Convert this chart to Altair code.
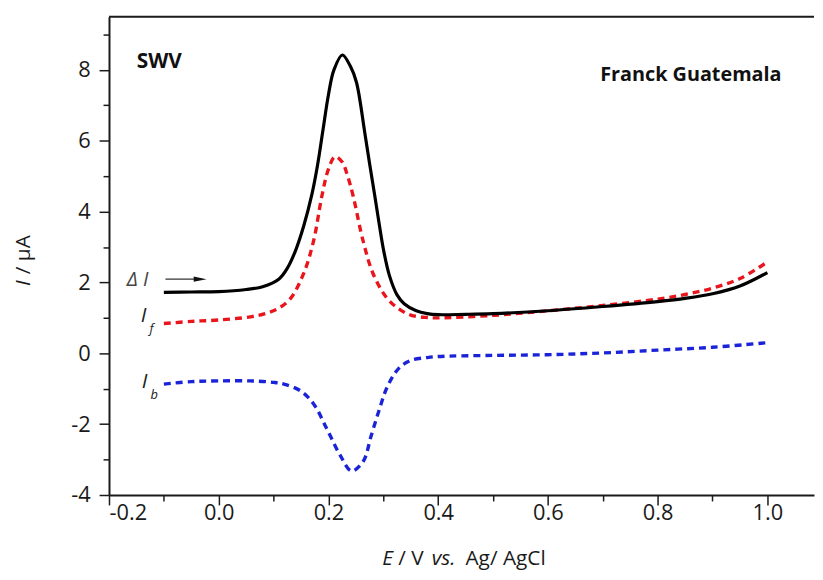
import altair as alt
import pandas as pd

# Delta I (black, solid)
dI_x = [-0.10, -0.05, 0.00, 0.05, 0.08, 0.11, 0.125, 0.14, 0.155, 0.17, 0.18, 0.19, 0.20, 0.21,
        0.2253, 0.24, 0.251, 0.266, 0.275, 0.284, 0.293, 0.30, 0.311, 0.325, 0.338, 0.36, 0.38,
        0.40, 0.45, 0.50, 0.60, 0.70, 0.80, 0.85, 0.90, 0.95, 1.00]
dI_y = [1.72, 1.73, 1.74, 1.80, 1.88, 2.10, 2.40, 2.90, 3.60, 4.50, 5.30, 6.30, 7.30, 8.00,
        8.42, 8.10, 7.65, 6.25, 5.35, 4.49, 3.60, 2.95, 2.20, 1.65, 1.40, 1.20, 1.12,
        1.09, 1.10, 1.12, 1.20, 1.32, 1.46, 1.55, 1.68, 1.90, 2.28]

# I_f (red, dashed)
If_x = [-0.10, -0.05, 0.00, 0.058, 0.089, 0.11, 0.131, 0.155, 0.173, 0.188, 0.20, 0.212,
        0.225, 0.235, 0.245, 0.263, 0.281, 0.305, 0.326, 0.35, 0.38, 0.40, 0.50, 0.60, 0.70,
        0.80, 0.85, 0.90, 0.95, 1.00]
If_y = [0.84, 0.90, 0.94, 1.03, 1.14, 1.28, 1.55, 2.26, 3.18, 4.44, 5.20, 5.55,
        5.40, 5.00, 4.44, 3.18, 2.26, 1.59, 1.28, 1.08, 1.01, 1.00, 1.07, 1.20, 1.35,
        1.53, 1.66, 1.84, 2.11, 2.58]

# I_b (blue, dashed)
Ib_x = [-0.10, -0.05, 0.00, 0.059, 0.10, 0.119, 0.149, 0.173, 0.197, 0.221, 0.242, 0.263,
        0.278, 0.293, 0.308, 0.329, 0.35, 0.38, 0.40, 0.50, 0.60, 0.70, 0.80, 0.90, 1.00]
Ib_y = [-0.87, -0.80, -0.78, -0.78, -0.82, -0.87, -1.06, -1.43, -2.13, -2.87, -3.32, -3.06,
        -2.32, -1.57, -0.92, -0.41, -0.20, -0.12, -0.09, -0.06, -0.04, 0.01, 0.09, 0.17, 0.30]

x_ticks = [-0.2, -0.1, 0.0, 0.1, 0.2, 0.3, 0.4, 0.5, 0.6, 0.7, 0.8, 0.9, 1.0]
y_ticks = [-4, -3, -2, -1, 0, 1, 2, 3, 4, 5, 6, 7, 8, 9]

W, H = 712, 483
FONT = "Open Sans"
AX = "#1a1a1a"

df_dI = pd.DataFrame({"E": dI_x, "I": dI_y})
df_If = pd.DataFrame({"E": If_x, "I": If_y})
df_Ib = pd.DataFrame({"E": Ib_x, "I": Ib_y})

x_major = "abs(round(datum.value*10)) % 2 == 0"
y_major = "abs(round(datum.value)) % 2 == 0"

x_enc = alt.X("E:Q", scale=alt.Scale(domain=[-0.2, 1.085], nice=False, zero=False),
              axis=alt.Axis(values=x_ticks, title=None, grid=False,
                            labelExpr=f"{x_major} ? (datum.value < 0 ? '-' : '') + format(abs(datum.value), '.1f') : ''",
                            tickSize={"condition": {"test": x_major, "value": 10}, "value": 6},
                            labelPadding=-2, labelFont=FONT, labelFontSize=22, labelColor=AX,
                            domainColor=AX, domainWidth=2, tickColor=AX, tickWidth=1.5))
y_enc = alt.Y("I:Q", scale=alt.Scale(domain=[-4, 9.5], nice=False, zero=False),
              axis=alt.Axis(values=y_ticks, title=None, grid=False,
                            labelExpr=f"{y_major} ? (datum.value < 0 ? '-' : '') + format(abs(datum.value), 'd') : ''",
                            tickSize={"condition": {"test": y_major, "value": 10}, "value": 6},
                            labelPadding=9, labelFont=FONT, labelFontSize=22, labelColor=AX,
                            domainColor=AX, domainWidth=2, tickColor=AX, tickWidth=1.5))

line_dI = alt.Chart(df_dI).mark_line(color="black", strokeWidth=3.2, interpolate="catmull-rom").encode(x=x_enc, y=y_enc)
line_If = alt.Chart(df_If).mark_line(color="#e8161c", strokeWidth=3.4, strokeDash=[7, 5],
                                     interpolate="catmull-rom").encode(x=x_enc, y=y_enc)
line_Ib = alt.Chart(df_Ib).mark_line(color="#1a23d8", strokeWidth=3.4, strokeDash=[7, 5],
                                     interpolate="catmull-rom").encode(x=x_enc, y=y_enc)

frame_top = alt.Chart(pd.DataFrame({"a": [0]})).mark_rule(color=AX, strokeWidth=2).encode(
    x=alt.value(0), x2=alt.value(W), y=alt.value(0))


def txt(text, x, y, size=21, style="normal", weight="normal", align="left", angle=0, color=AX, baseline="middle"):
    return alt.Chart(pd.DataFrame({"t": [text]})).mark_text(
        font=FONT, fontSize=size, fontStyle=style, fontWeight=weight, align=align,
        baseline=baseline, angle=angle, color=color).encode(
        x=alt.value(x), y=alt.value(y), text="t:N")


annots = [
    txt("SWV", 28, 46, size=21, weight="bold", color="#111111"),
    txt("Franck Guatemala", 496, 59, size=20, weight="bold", color="#111111"),
    # x-axis title
    txt("E", 276, 548, style="italic"),
    txt("/ V", 292, 548),
    txt("vs.", 326, 548, style="italic"),
    txt("Ag/ AgCl", 360, 548),
    # y-axis title (rotated)
    txt("I", -86, 272, style="italic", angle=270),
    txt("/ μA", -86, 260, angle=270),
    # curve labels
    txt("Δ I", 18, 266, size=20, style="italic", color="#444444"),
    txt("I", 32, 302, size=21, style="italic", color="#222222"),
    txt("f", 41, 315, size=13, style="italic", color="#222222"),
    txt("I", 33, 369, size=21, style="italic", color="#222222"),
    txt("b", 42, 382, size=13, style="italic", color="#222222"),
]

arrow_line = alt.Chart(pd.DataFrame({"a": [0]})).mark_rule(color="#333333", strokeWidth=1.3).encode(
    x=alt.value(57), x2=alt.value(90), y=alt.value(265))
arrow_head = alt.Chart(pd.DataFrame({"a": [0]})).mark_point(
    shape="M -1 -0.4 L 1 0 L -1 0.4 Z", filled=True, color="#111111", size=169, opacity=1).encode(
    x=alt.value(92), y=alt.value(265))

chart = alt.layer(line_Ib, line_If, line_dI, frame_top, arrow_line, arrow_head, *annots).properties(
    width=W, height=H,
    autosize=alt.AutoSizeParams(type="none"),
    padding={"left": 102, "top": 6, "right": 1, "bottom": 82},
    background="white",
).configure_view(stroke=None)

chart.save("out.html", embed_options={"renderer": "svg", "actions": False})
